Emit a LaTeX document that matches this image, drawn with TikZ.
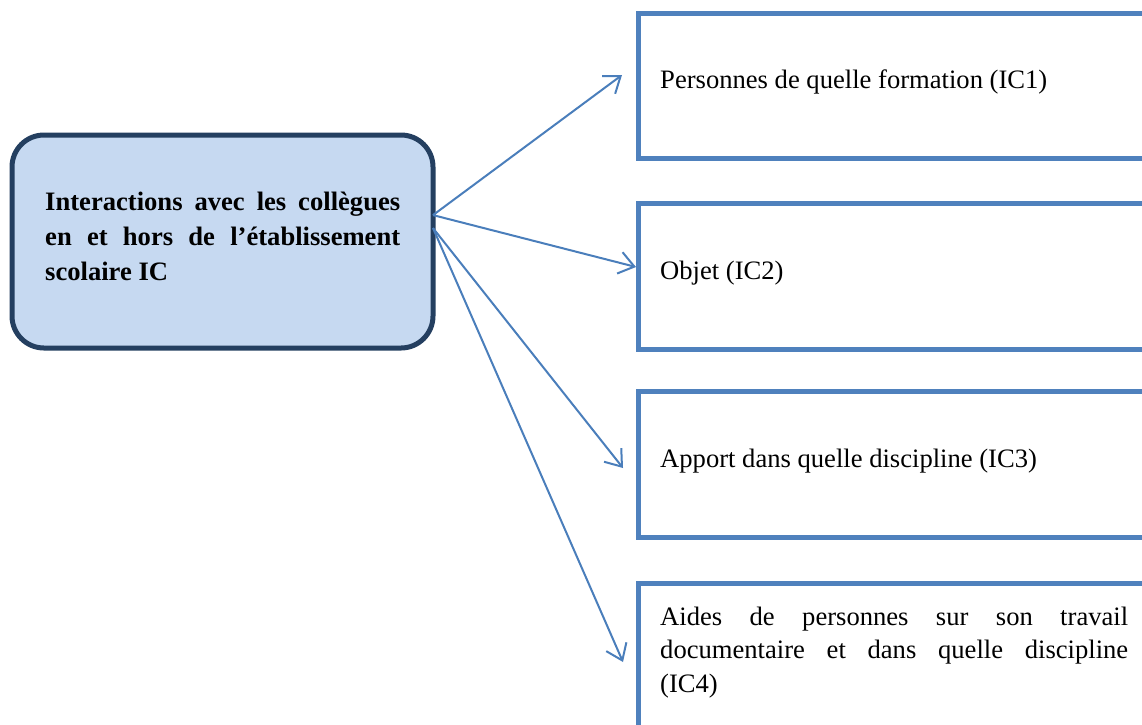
\documentclass[tikz,border=0pt]{standalone}
\usepackage{fontspec}
\setmainfont{Liberation Serif}
\usetikzlibrary{arrows.meta,calc}
\definecolor{mainfill}{HTML}{C6D9F1}
\definecolor{mainline}{HTML}{243F60}
\definecolor{boxline}{HTML}{4F81BD}
\definecolor{arrowc}{HTML}{4A7EBB}
\begin{document}
\begin{tikzpicture}[x=1pt,y=-1pt,
  mainbox/.style={draw=mainline,fill=mainfill,line width=5pt,rounded corners=32pt,
    minimum width=421pt,minimum height=213pt,inner sep=0pt,outer sep=0pt},
  rbox/.style={draw=boxline,line width=5pt,anchor=north west,minimum width=530pt,
    inner sep=0pt,outer sep=0pt},
  btext/.style={anchor=base west,inner sep=0pt,font=\fontsize{26.6}{33.5}\selectfont},
  mtext/.style={anchor=base west,inner sep=0pt,font=\fontsize{26.6}{35}\selectfont\bfseries},
  conn/.style={draw=arrowc,line width=2pt,-{Straight Barb[length=15pt,width=22pt]}}]
\useasboundingbox (0,0) rectangle (1142,724);
\clip (0,0) rectangle (1142,724);
\node[mainbox] (main) at (222.5,241.5) {};
\node[mtext] (mt1) at (45,210) {\makebox[355pt][s]{Interactions avec les collègues}};
\node[mtext] (mt2) at (45,245) {\makebox[355pt][s]{en et hors de l’établissement}};
\node[mtext] (mt3) at (45,280) {scolaire IC};
\node[rbox,minimum height=145pt] (b1) at (638,13) {};
\node[rbox,minimum height=146pt] (b2) at (638,203.5) {};
\node[rbox,minimum height=146pt] (b3) at (638,391) {};
\node[rbox,minimum height=160pt] (b4) at (638,583) {};
\node[btext] (t1) at (660,88) {Personnes de quelle formation (IC1)};
\node[btext] (t2) at (660,279) {Objet (IC2)};
\node[btext] (t3) at (660,467) {Apport dans quelle discipline (IC3)};
\node[btext] (t4a) at (660,625) {\makebox[468pt][s]{Aides de personnes sur son travail}};
\node[btext] (t4b) at (660,658.5) {\makebox[468pt][s]{documentaire et dans quelle discipline}};
\node[btext] (t4c) at (660,692) {(IC4)};
\coordinate (s1) at ($(main.north east)!0.376!(main.south east)$);
\coordinate (s2) at ($(main.north east)!0.437!(main.south east)$);
\coordinate (e1) at ($(b1.north west)+(-16,62)$);
\coordinate (e2) at ($(b2.north west)+(-2,63.5)$);
\coordinate (e3) at ($(b3.north west)+(-15,77)$);
\coordinate (e4) at ($(b4.north west)+(-15,79)$);
\draw[conn] (s1) -- (e1);
\draw[conn] (s1) -- (e2);
\draw[conn] (s2) -- (e3);
\draw[conn] (s2) -- (e4);
\end{tikzpicture}
\end{document}
